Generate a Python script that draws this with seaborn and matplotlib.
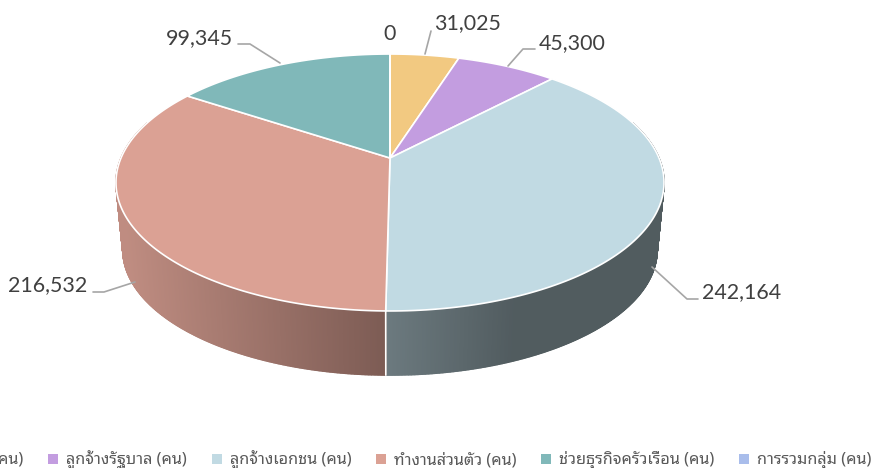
import numpy as np
import matplotlib
matplotlib.use("Agg")
import matplotlib.pyplot as plt
from matplotlib import font_manager as fm
from matplotlib.path import Path
from matplotlib.patches import Patch
from matplotlib.transforms import Transform, Affine2D
import seaborn as sns

categories = ["นายจ้าง (คน)", "ลูกจ้างรัฐบาล (คน)", "ลูกจ้างเอกชน (คน)",
              "ทำงานส่วนตัว (คน)", "ช่วยธุรกิจครัวเรือน (คน)", "การรวมกลุ่ม (คน)"]
values = [31025, 45300, 242164, 216532, 99345, 0]
colors = ["#F2C981", "#C39DE0", "#C1DAE3", "#DBA194", "#80B8B9", "#A9BDEB"]
labels = ["31,025", "45,300", "242,164", "216,532", "99,345", "0"]

names = {f.name for f in fm.fontManager.ttflist}
prefer = ["Noto Sans Thai Looped", "Sarabun", "IBM Plex Sans Thai Looped", "Noto Sans Thai", "Anuphan", "FreeSerif"]
thai_font = next((n for n in prefer if n in names), "DejaVu Sans")

sns.set_theme(style="white")
plt.rcParams['font.family'] = [thai_font, 'Lato', 'DejaVu Sans']

# perspective geometry of the tilted disc (figure pixels)
CX, CY, A, B, K = 390.0, 158.0, 269.0, 123.8, 0.1907
S, DEPTH = 0.975, 68.0


def project(xy, scale=1.0, drop=0.0):
    x, y = np.asarray(xy)[:, 0], np.asarray(xy)[:, 1]
    w = 1 + K * y
    return np.column_stack([CX + scale * A * x / w, CY + drop - scale * B * y / w])


class Perspective(Transform):
    input_dims = output_dims = 2
    has_inverse = False

    def transform_non_affine(self, values):
        return project(values)

    def transform_path_non_affine(self, path):
        polys = path.transformed(Affine2D().scale(2000)).to_polygons(closed_only=False)
        return Path(project(np.vstack(polys) / 2000))


fig = plt.figure(figsize=(8.77, 4.68), dpi=100)
ax = fig.add_axes([0, 0, 1, 1])

fracs = np.cumsum([0] + values) / np.sum(values)


def shade(i, px):
    if i == 3:
        t = np.clip((px - 125) / (385 - 125), 0, 1)
        return 0.87 + (0.57 - 0.87) * t
    t = np.clip((px - 386) / (515 - 386), 0, 1)
    return 0.56 + (0.42 - 0.56) * t


for i in range(len(values)):
    a0, a1 = fracs[i] * 360, fracs[i + 1] * 360
    if a1 <= a0:
        continue
    th = np.radians(np.linspace(a0, a1, int(a1 - a0) * 4 + 2))
    pts = np.column_stack([np.sin(th), np.cos(th)])
    top, bot = project(pts), project(pts, S, DEPTH)
    base = np.array(matplotlib.colors.to_rgb(colors[i]))
    for j in range(len(th) - 1):
        if pts[j, 1] > 0.3 and pts[j + 1, 1] > 0.3:
            continue
        c = base * (shade(i, top[j, 0]) if i in (2, 3) else 0.6)
        q = np.vstack([top[j], top[j + 1], bot[j + 1], bot[j]])
        ax.fill(q[:, 0], q[:, 1], facecolor=c, edgecolor=c, lw=1.0, zorder=1)
    if i == 2:
        ax.plot([top[-1, 0], bot[-1, 0]], [top[-1, 1], bot[-1, 1]], color="white", lw=1.2, zorder=2)

wedges, _ = ax.pie(values, colors=colors, startangle=90, counterclock=False,
                   wedgeprops=dict(edgecolor="white", linewidth=1.2))
for w in wedges:
    w.set_zorder(3)
    w.set_transform(Perspective() + ax.transData)

ax.set_aspect("auto")
ax.set_xlim(0, 877)
ax.set_ylim(468, 0)
ax.set_axis_off()

label_pos = [(468, 23), (572, 43), (742, 292), (48, 285), (199, 38), (390, 34)]
leaders = [[(425, 54), (431, 31)],
           [(508, 66), (523, 49), (535, 49)],
           [(652, 267), (687, 299), (698, 299)],
           [(135, 282), (104, 292), (93, 292)],
           [(280, 63), (250, 44), (238, 44)],
           None]
for txt, pos, ld in zip(labels, label_pos, leaders):
    ax.text(pos[0], pos[1], txt, ha="center", va="center", fontsize=15.4,
            color="#404040", family="Lato", zorder=6)
    if ld:
        ld = np.array(ld)
        ax.plot(ld[:, 0], ld[:, 1], color="#A6A6A6", lw=1.2, zorder=5)

handles = [Patch(facecolor=c, edgecolor="none") for c in colors]
leg = ax.legend(handles, categories, ncol=6, loc="center", bbox_to_anchor=(396 / 877, 1 - 460 / 468),
                frameon=False, fontsize=11.7, labelcolor="#595959", handlelength=0.6,
                handleheight=0.6, handletextpad=0.5, columnspacing=1.53)

fig.savefig("out.png", dpi=100)
